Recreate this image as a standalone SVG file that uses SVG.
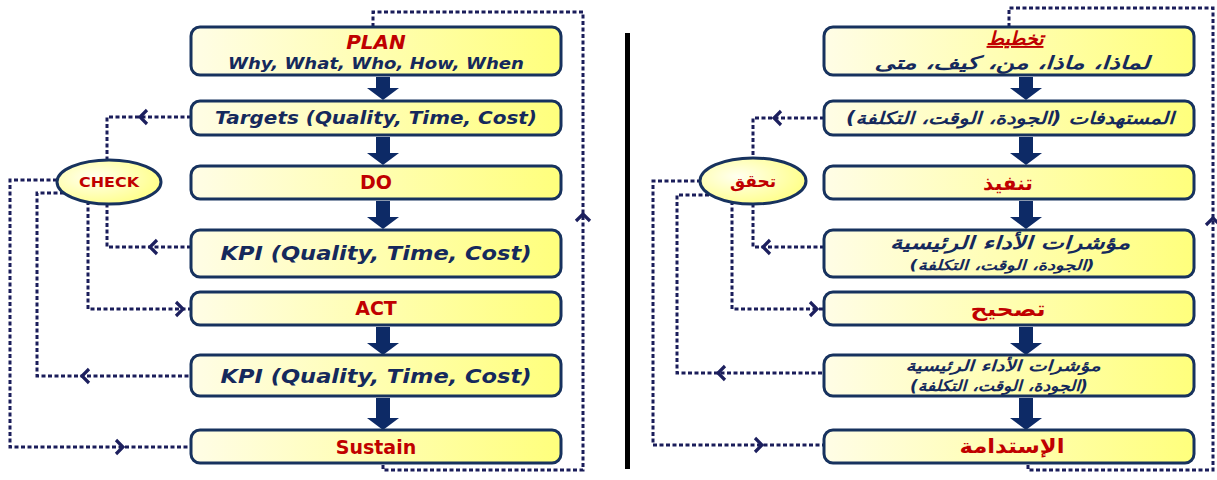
<svg xmlns="http://www.w3.org/2000/svg" width="1217" height="480" viewBox="0 0 1217 480">
<defs>
<linearGradient id="boxg" x1="0" y1="0" x2="1" y2="0">
<stop offset="0" stop-color="#fffde6"/>
<stop offset="1" stop-color="#ffff7c"/>
</linearGradient>
<radialGradient id="ellg" cx="0.35" cy="0.4" r="0.75">
<stop offset="0" stop-color="#fffff0"/>
<stop offset="1" stop-color="#ffff7c"/>
</radialGradient>
<path id="chev" d="M7,-7 L0,0 L7,7" fill="none" stroke="#1c1f5e" stroke-width="3.2" stroke-linejoin="miter"/>
</defs>
<style>
.box{fill:url(#boxg);stroke:#17325e;stroke-width:3}
.ell{fill:url(#ellg);stroke:#17325e;stroke-width:3}
.dl{fill:none;stroke:#1a1d5a;stroke-width:3;stroke-dasharray:4 2.5}
.ba{fill:#0d2a66}
.en{font-family:"DejaVu Sans","Liberation Sans",sans-serif;font-weight:bold;text-anchor:middle}
.ar{font-family:"DejaVu Sans","Noto Sans","Liberation Sans",sans-serif;font-weight:bold;font-style:italic;text-anchor:middle}
.red{fill:#c00000}
.nv{fill:#15295c;font-style:italic}
.up{font-style:normal}
</style>
<rect x="625" y="33" width="5" height="436" fill="#000"/>
<g id="connectors">
<path class="dl" d="M373,27 V12 H583 V470 H383 V463"/>
<use href="#chev" transform="translate(583,214) rotate(90)"/>
<path class="dl" d="M191,117 H107 V160"/>
<use href="#chev" transform="translate(140,117)"/>
<path class="dl" d="M191,247 H107 V204"/>
<use href="#chev" transform="translate(150,247)"/>
<path class="dl" d="M88,201 V309 H191"/>
<use href="#chev" transform="translate(183,309) rotate(180)"/>
<path class="dl" d="M57,180 H10 V447 H191"/>
<use href="#chev" transform="translate(123,447) rotate(180)"/>
<path class="dl" d="M64,193 H37 V376 H191"/>
<use href="#chev" transform="translate(82,376)"/>
<path class="dl" d="M1009,27 V8 H1213 V470 H1028 V463"/>
<use href="#chev" transform="translate(1213,218) rotate(90)"/>
<path class="dl" d="M824,118 H753 V159"/>
<use href="#chev" transform="translate(774,118)"/>
<path class="dl" d="M824,247 H753 V204"/>
<use href="#chev" transform="translate(763,247)"/>
<path class="dl" d="M732,201 V309 H824"/>
<use href="#chev" transform="translate(817,309) rotate(180)"/>
<path class="dl" d="M701,181 H653 V445 H824"/>
<use href="#chev" transform="translate(762,445) rotate(180)"/>
<path class="dl" d="M709,195 H677 V373 H824"/>
<use href="#chev" transform="translate(718,373)"/>
<path class="ba" d="M376,77 H390 V88 H399 L383,100 L367,88 H376 Z"/>
<path class="ba" d="M376,137 H390 V153 H399 L383,165 L367,153 H376 Z"/>
<path class="ba" d="M376,201 H390 V217 H399 L383,229 L367,217 H376 Z"/>
<path class="ba" d="M376,327 H390 V343 H399 L383,355 L367,343 H376 Z"/>
<path class="ba" d="M376,398 H390 V418 H399 L383,430 L367,418 H376 Z"/>
<path class="ba" d="M1019,77 H1033 V88 H1042 L1026,100 L1010,88 H1019 Z"/>
<path class="ba" d="M1019,137 H1033 V153 H1042 L1026,165 L1010,153 H1019 Z"/>
<path class="ba" d="M1019,201 H1033 V217 H1042 L1026,229 L1010,217 H1019 Z"/>
<path class="ba" d="M1019,327 H1033 V343 H1042 L1026,355 L1010,343 H1019 Z"/>
<path class="ba" d="M1019,398 H1033 V418 H1042 L1026,430 L1010,418 H1019 Z"/>
</g>
<g id="plan"><rect class="box" x="191" y="27" width="370" height="48" rx="9"/>
<text class="en red" x="376" y="49" font-size="20" font-style="italic">PLAN</text>
<text class="en nv" x="376" y="69" font-size="15" textLength="296" lengthAdjust="spacingAndGlyphs">Why, What, Who, How, When</text></g>
<g id="targets"><rect class="box" x="191" y="101" width="370" height="34" rx="9"/>
<text class="en nv" x="376" y="124" font-size="17" textLength="322" lengthAdjust="spacingAndGlyphs">Targets (Quality, Time, Cost)</text></g>
<g id="do"><rect class="box" x="191" y="166" width="370" height="33" rx="9"/>
<text class="en red" x="376" y="189" font-size="19">DO</text></g>
<g id="kpi1"><rect class="box" x="191" y="230" width="370" height="47" rx="9"/>
<text class="en nv" x="376" y="260" font-size="20" textLength="311" lengthAdjust="spacingAndGlyphs">KPI (Quality, Time, Cost)</text></g>
<g id="act"><rect class="box" x="191" y="292" width="370" height="33" rx="9"/>
<text class="en red" x="376" y="315" font-size="19">ACT</text></g>
<g id="kpi2"><rect class="box" x="191" y="355" width="370" height="41" rx="9"/>
<text class="en nv" x="376" y="383" font-size="20" textLength="311" lengthAdjust="spacingAndGlyphs">KPI (Quality, Time, Cost)</text></g>
<g id="sustain"><rect class="box" x="191" y="430" width="370" height="33" rx="9"/>
<text class="en red" x="376" y="454" font-size="19">Sustain</text></g>
<g id="check"><ellipse class="ell" cx="109" cy="182" rx="52" ry="22"/>
<text class="en red" x="109" y="187" font-size="14" textLength="60" lengthAdjust="spacingAndGlyphs">CHECK</text></g>
<g id="plan-ar"><rect class="box" x="824" y="27" width="370" height="48" rx="9"/>
<text class="ar red" x="1015" y="45" font-size="19" text-decoration="underline">تخطيط</text>
<text class="ar nv" x="1012" y="69" font-size="18" textLength="275" lengthAdjust="spacingAndGlyphs">لماذا، ماذا، من، كيف، متى</text></g>
<g id="targets-ar"><rect class="box" x="824" y="101" width="370" height="34" rx="9"/>
<text class="ar nv" x="1010" y="124" font-size="17" textLength="328" lengthAdjust="spacingAndGlyphs">المستهدفات (الجودة، الوقت، التكلفة)</text></g>
<g id="do-ar"><rect class="box" x="824" y="166" width="370" height="33" rx="9"/>
<text class="ar red up" x="1008" y="190" font-size="20">تنفيذ</text></g>
<g id="kpi1-ar"><rect class="box" x="824" y="230" width="370" height="47" rx="9"/>
<text class="ar nv" x="1010" y="249" font-size="18" textLength="240" lengthAdjust="spacingAndGlyphs">مؤشرات الأداء الرئيسية</text>
<text class="ar nv" x="1002" y="270" font-size="14" textLength="185" lengthAdjust="spacingAndGlyphs">(الجودة، الوقت، التكلفة)</text></g>
<g id="act-ar"><rect class="box" x="824" y="292" width="370" height="33" rx="9"/>
<text class="ar red up" x="1008" y="316" font-size="20" textLength="75" lengthAdjust="spacingAndGlyphs">تصحيح</text></g>
<g id="kpi2-ar"><rect class="box" x="824" y="355" width="370" height="41" rx="9"/>
<text class="ar nv" x="1003" y="371" font-size="15" textLength="195" lengthAdjust="spacingAndGlyphs">مؤشرات الأداء الرئيسية</text>
<text class="ar nv" x="999" y="391" font-size="15" textLength="178" lengthAdjust="spacingAndGlyphs">(الجودة، الوقت، التكلفة)</text></g>
<g id="sustain-ar"><rect class="box" x="824" y="430" width="370" height="33" rx="9"/>
<text class="ar red up" x="1012" y="453" font-size="20" textLength="105" lengthAdjust="spacingAndGlyphs">الإستدامة</text></g>
<g id="check-ar"><ellipse class="ell" cx="753" cy="181" rx="53" ry="23"/>
<text class="ar red up" x="753" y="187" font-size="17">تحقق</text></g>
</svg>
